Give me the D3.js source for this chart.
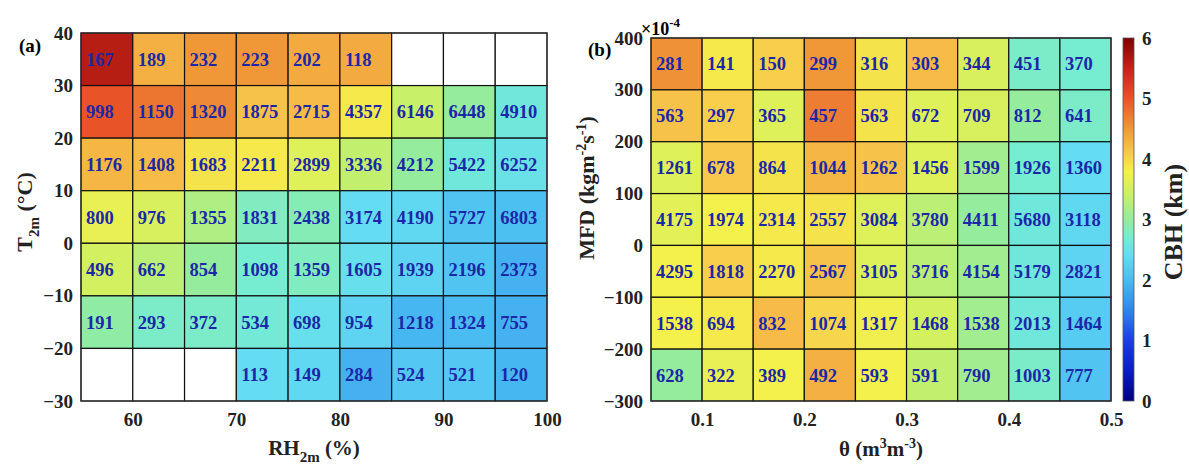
<!DOCTYPE html>
<html>
<head>
<meta charset="utf-8">
<script src="https://cdn.jsdelivr.net/npm/d3@7"></script>
<style>
  body { margin: 0; background: #fff; }
  svg text { font-family: "Liberation Serif", "Times New Roman", serif; font-weight: bold; }
</style>
</head>
<body>
<svg id="chart" width="1189" height="466"></svg>
<script>
// ---- data ----
// panel (a): RH bins (lower edges, %) and T bins (lower edges, degC, top row first)
const rhBins = [55, 60, 65, 70, 75, 80, 85, 90, 95];
const tBins = [30, 20, 10, 0, -10, -20, -30];
const countsA = [
  [167, 189, 232, 223, 202, 118, null, null, null],
  [998, 1150, 1320, 1875, 2715, 4357, 6146, 6448, 4910],
  [1176, 1408, 1683, 2211, 2899, 3336, 4212, 5422, 6252],
  [800, 976, 1355, 1831, 2438, 3174, 4190, 5727, 6803],
  [496, 662, 854, 1098, 1359, 1605, 1939, 2196, 2373],
  [191, 293, 372, 534, 698, 954, 1218, 1324, 755],
  [null, null, null, 113, 149, 284, 524, 521, 120]
];
// CBH (km)
const cbhA = [
  [5.6, 4.3, 4.5, 4.5, 4.35, 4.35, null, null, null],
  [5.0, 4.75, 4.6, 4.15, 4.2, 3.85, 3.4, 3.0, 2.6],
  [4.25, 4.2, 3.9, 3.85, 3.6, 3.35, 3.0, 2.6, 2.5],
  [3.7, 3.55, 3.2, 2.8, 2.85, 2.4, 2.35, 2.1, 2.05],
  [3.5, 3.3, 3.0, 2.7, 2.8, 2.45, 2.3, 2.1, 1.9],
  [2.95, 2.75, 2.75, 2.65, 2.45, 2.3, 1.95, 2.0, 1.9],
  [null, null, null, 2.4, 2.35, 1.9, 2.15, 2.15, 1.95]
];

// panel (b): soil moisture bins (lower edges) and MFD bins (lower edges, x1e-4, top row first)
const thetaBins = [0.05, 0.10, 0.15, 0.20, 0.25, 0.30, 0.35, 0.40, 0.45];
const mfdBins = [300, 200, 100, 0, -100, -200, -300];
const countsB = [
  [281, 141, 150, 299, 316, 303, 344, 451, 370],
  [563, 297, 365, 457, 563, 672, 709, 812, 641],
  [1261, 678, 864, 1044, 1262, 1456, 1599, 1926, 1360],
  [4175, 1974, 2314, 2557, 3084, 3780, 4411, 5680, 3118],
  [4295, 1818, 2270, 2567, 3105, 3716, 4154, 5179, 2821],
  [1538, 694, 832, 1074, 1317, 1468, 1538, 2013, 1464],
  [628, 322, 389, 492, 593, 591, 790, 1003, 777]
];
const cbhB = [
  [4.55, 3.85, 4.05, 4.5, 3.9, 4.2, 3.55, 2.75, 2.7],
  [4.15, 4.05, 3.6, 4.7, 3.9, 3.6, 3.55, 3.0, 2.75],
  [3.6, 4.1, 3.9, 4.25, 4.15, 3.6, 3.1, 2.7, 2.4],
  [3.65, 3.8, 3.85, 3.9, 3.6, 3.3, 3.0, 2.6, 2.35],
  [3.8, 4.05, 3.85, 4.15, 3.6, 3.3, 3.1, 2.6, 2.3],
  [3.8, 3.85, 4.2, 4.0, 3.75, 3.5, 3.1, 2.6, 2.2],
  [3.0, 3.7, 3.8, 4.3, 3.8, 3.35, 3.1, 2.75, 2.1]
];

const ticksA_x = [60, 70, 80, 90, 100];
const ticksA_y = [40, 30, 20, 10, 0, -10, -20, -30];
const ticksB_x = [0.1, 0.2, 0.3, 0.4, 0.5];
const ticksB_y = [400, 300, 200, 100, 0, -100, -200, -300];
const cbTicks = [0, 1, 2, 3, 4, 5, 6];

// jet-like colormap used for CBH
const cmapStops = [0, 0.5, 1.0, 1.5, 2.0, 2.4, 2.7, 3.0, 3.4, 3.8, 4.1, 4.5, 5.0, 5.5, 6.0];
const cmapColors = ['#00007f', '#0a1ec0', '#1a3ee0', '#2f86ea', '#4abcf2', '#64dcf2', '#76ecd0',
  '#94ec9c', '#c8f068', '#f4f04c', '#f8c84c', '#f09838', '#e85428', '#c42418', '#800000'];
const color = d3.scaleLinear().domain(cmapStops).range(cmapColors).interpolate(d3.interpolateRgb);

const svg = d3.select('#chart');
const numColor = '#1a28a8';

function drawPanel(opt) {
  const x = d3.scaleLinear().domain(opt.xDomain).range([opt.left, opt.right]);
  const y = d3.scaleLinear().domain(opt.yDomain).range([opt.bottom, opt.top]);
  const g = svg.append('g');

  const cells = [];
  opt.yBins.forEach((yb, i) => {
    opt.xBins.forEach((xb, j) => {
      cells.push({ x0: xb, x1: xb + opt.dx, y0: yb, y1: yb + opt.dy, n: opt.counts[i][j], v: opt.cbh[i][j] });
    });
  });

  g.selectAll('rect.cell')
    .data(cells)
    .enter()
    .append('rect')
    .attr('class', 'cell')
    .attr('x', d => x(d.x0))
    .attr('y', d => y(d.y1))
    .attr('width', d => x(d.x1) - x(d.x0))
    .attr('height', d => y(d.y0) - y(d.y1))
    .attr('fill', d => d.v == null ? '#fff' : color(d.v))
    .attr('stroke', '#111')
    .attr('stroke-width', 1.2);

  g.selectAll('text.num')
    .data(cells.filter(d => d.n != null))
    .enter()
    .append('text')
    .attr('class', 'num')
    .attr('x', d => x(d.x0) + 5)
    .attr('y', d => (y(d.y0) + y(d.y1)) / 2 + 6.5)
    .attr('fill', numColor)
    .attr('font-size', '18.5px')
    .text(d => d.n);

  g.append('rect')
    .attr('x', opt.left).attr('y', opt.top)
    .attr('width', opt.right - opt.left).attr('height', opt.bottom - opt.top)
    .attr('fill', 'none').attr('stroke', '#333').attr('stroke-width', 1.2);

  const xAxis = d3.axisBottom(x).tickValues(opt.xTicks).tickSize(0).tickPadding(12).tickFormat(opt.xFmt);
  const yAxis = d3.axisLeft(y).tickValues(opt.yTicks).tickSize(0).tickPadding(8).tickFormat(d3.format('d'));
  const gx = g.append('g').attr('transform', `translate(0,${opt.bottom})`).call(xAxis);
  const gy = g.append('g').attr('transform', `translate(${opt.left},0)`).call(yAxis);
  [gx, gy].forEach(a => {
    a.select('.domain').remove();
    a.selectAll('text')
      .attr('font-family', '"Liberation Serif", serif')
      .attr('font-weight', 'bold')
      .attr('font-size', '19px')
      .attr('fill', '#222');
  });
  return { x, y };
}

// ---- panel (a) ----
drawPanel({
  left: 81, right: 547, top: 33, bottom: 401,
  xDomain: [55, 100], yDomain: [-30, 40],
  xBins: rhBins, yBins: tBins, dx: 5, dy: 10,
  counts: countsA, cbh: cbhA,
  xTicks: ticksA_x, yTicks: ticksA_y, xFmt: d3.format('d')
});

// ---- panel (b) ----
drawPanel({
  left: 651, right: 1111, top: 38, bottom: 401,
  xDomain: [0.05, 0.5], yDomain: [-300, 400],
  xBins: thetaBins, yBins: mfdBins, dx: 0.05, dy: 100,
  counts: countsB, cbh: cbhB,
  xTicks: ticksB_x, yTicks: ticksB_y, xFmt: d3.format('.1f')
});

// ---- labels ----
svg.append('text').attr('x', 19).attr('y', 52).attr('font-size', '19px').text('(a)');
svg.append('text').attr('x', 588).attr('y', 56).attr('font-size', '19px').text('(b)');

// x10^-4 multiplier
const mult = svg.append('text').attr('x', 641).attr('y', 35).attr('font-size', '18px').attr('font-weight', 'normal');
mult.append('tspan').text('\u00d710');
mult.append('tspan').attr('dy', -8).attr('font-size', '13px').attr('font-weight', 'bold').text('-4');

// x axis titles
const xtA = svg.append('text').attr('x', 314).attr('y', 455).attr('text-anchor', 'middle').attr('font-size', '21px').attr('fill', '#222');
xtA.append('tspan').text('RH');
xtA.append('tspan').attr('dy', 7).attr('font-size', '15px').text('2m');
xtA.append('tspan').attr('dy', -7).text(' (%)');

const xtB = svg.append('text').attr('x', 881).attr('y', 456).attr('text-anchor', 'middle').attr('font-size', '21px').attr('fill', '#222');
xtB.append('tspan').text('\u03b8 (m');
xtB.append('tspan').attr('dy', -8).attr('font-size', '14px').text('3');
xtB.append('tspan').attr('dy', 8).text('m');
xtB.append('tspan').attr('dy', -8).attr('font-size', '14px').text('-3');
xtB.append('tspan').attr('dy', 8).text(')');

// y axis titles
const ytA = svg.append('text').attr('transform', 'translate(32,212) rotate(-90)').attr('text-anchor', 'middle').attr('font-size', '22px').attr('fill', '#222');
ytA.append('tspan').text('T');
ytA.append('tspan').attr('dy', 7).attr('font-size', '15px').text('2m');
ytA.append('tspan').attr('dy', -7).text(' (\u00b0C)');

const ytB = svg.append('text').attr('transform', 'translate(594,188) rotate(-90)').attr('text-anchor', 'middle').attr('font-size', '22px').attr('fill', '#222');
ytB.append('tspan').text('MFD (kgm');
ytB.append('tspan').attr('dy', -8).attr('font-size', '14px').text('-2');
ytB.append('tspan').attr('dy', 8).text('s');
ytB.append('tspan').attr('dy', -8).attr('font-size', '14px').text('-1');
ytB.append('tspan').attr('dy', 8).text(')');

// ---- colorbar ----
const cbX = 1123, cbW = 11, cbTop = 38, cbBottom = 401;
const cbScale = d3.scaleLinear().domain([0, 6]).range([cbBottom, cbTop]);
const defs = svg.append('defs');
const grad = defs.append('linearGradient').attr('id', 'cbgrad')
  .attr('x1', 0).attr('y1', 1).attr('x2', 0).attr('y2', 0);
grad.selectAll('stop')
  .data(d3.range(0, 6.01, 0.1))
  .enter()
  .append('stop')
  .attr('offset', d => d / 6)
  .attr('stop-color', d => color(d));
svg.append('rect')
  .attr('x', cbX).attr('y', cbTop).attr('width', cbW).attr('height', cbBottom - cbTop)
  .attr('fill', 'url(#cbgrad)').attr('stroke', '#555').attr('stroke-width', 0.8);
const cbAxis = d3.axisRight(cbScale).tickValues(cbTicks).tickSize(0).tickPadding(8 + cbW).tickFormat(d3.format('d'));
const gcb = svg.append('g').attr('transform', `translate(${cbX},0)`).call(cbAxis);
gcb.select('.domain').remove();
gcb.selectAll('text')
  .attr('font-family', '"Liberation Serif", serif')
  .attr('font-weight', 'bold')
  .attr('font-size', '19px')
  .attr('fill', '#222');

svg.append('text').attr('transform', 'translate(1182,222) rotate(-90)').attr('text-anchor', 'middle')
  .attr('font-size', '26px').attr('fill', '#222').text('CBH (km)');
</script>
</body>
</html>
